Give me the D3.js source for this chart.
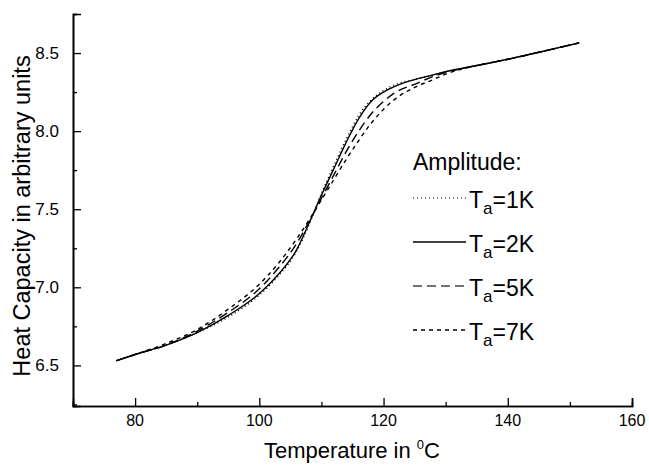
<!DOCTYPE html>
<html>
<head>
<meta charset="utf-8">
<style>
  body { margin: 0; background: #fff; }
  svg text { font-family: 'Liberation Sans', Arial, sans-serif; fill: #000; }
</style>
</head>
<body>
<svg width="649" height="467"></svg>
<script src="https://d3js.org/d3.v7.min.js"></script>
<script>
// temperature grid (°C)
const temps = [77, 80, 85, 90, 95, 100, 103, 106, 108, 110, 112, 114, 116, 118, 120, 122, 125, 128, 130, 135, 140, 145, 151.5];

// heat capacity for each amplitude
const cp1K = [6.53, 6.57, 6.63, 6.71, 6.81, 6.95, 7.07, 7.23, 7.40, 7.60, 7.78, 7.95, 8.10, 8.20, 8.26, 8.30, 8.33, 8.36, 8.38, 8.42, 8.46, 8.505, 8.565];
const cp2K = [6.53, 6.57, 6.63, 6.71, 6.82, 6.96, 7.08, 7.24, 7.41, 7.59, 7.76, 7.93, 8.08, 8.19, 8.25, 8.29, 8.33, 8.36, 8.38, 8.42, 8.46, 8.505, 8.565];
const cp5K = [6.53, 6.57, 6.63, 6.72, 6.84, 6.99, 7.12, 7.28, 7.42, 7.57, 7.72, 7.87, 8.00, 8.11, 8.19, 8.25, 8.30, 8.35, 8.375, 8.42, 8.46, 8.505, 8.565];
const cp7K = [6.53, 6.57, 6.64, 6.73, 6.86, 7.02, 7.15, 7.31, 7.43, 7.56, 7.69, 7.82, 7.94, 8.05, 8.14, 8.21, 8.28, 8.33, 8.365, 8.42, 8.46, 8.505, 8.565];

const xMajor = [80, 100, 120, 140, 160];
const xMinor = [70, 90, 110, 130, 150];
const yMajor = [6.5, 7.0, 7.5, 8.0, 8.5];
const yMinor = [6.25, 6.75, 7.25, 7.75, 8.25, 8.75];

const seriesNames = ["1K", "2K", "5K", "7K"];
const seriesData = [cp1K, cp2K, cp5K, cp7K];
const dashes = ["1,3", null, "9,5", "4,4"];

let svg = d3.select("svg");
let margin = { top: 14, right: 17, bottom: 61, left: 73 };
let width = 649, height = 467;

let x = d3.scaleLinear().domain([70, 160]).range([margin.left, width - margin.right]);
let y = d3.scaleLinear().domain([6.24, 8.75]).range([height - margin.bottom, margin.top]);

// axes with inward ticks
let xAxis = svg.append("g").attr("transform", `translate(0,${y.range()[0]})`);
xAxis.call(d3.axisTop(x).tickValues(xMinor).tickSize(4).tickFormat(""));
xAxis.append("g").call(d3.axisTop(x).tickValues(xMajor).tickSize(8).tickFormat(""));
xAxis.selectAll(".domain").attr("stroke-width", 1.6);
xAxis.selectAll(".tick line").attr("stroke-width", 1.3);

let yAxis = svg.append("g").attr("transform", `translate(${x.range()[0]},0)`);
yAxis.call(d3.axisRight(y).tickValues(yMinor).tickSize(4).tickFormat(""));
yAxis.append("g").call(d3.axisRight(y).tickValues(yMajor).tickSize(8).tickFormat(""));
yAxis.selectAll(".domain").attr("stroke-width", 1.6);
yAxis.selectAll(".tick line").attr("stroke-width", 1.3);

// tick labels
svg.append("g").selectAll("text")
  .data(xMajor).join("text")
  .attr("x", d => x(d)).attr("y", y.range()[0] + 20)
  .attr("text-anchor", "middle").style("font-size", "16px")
  .text(d => d);

svg.append("g").selectAll("text")
  .data(yMajor).join("text")
  .attr("x", x.range()[0] - 14).attr("y", d => y(d) + 6)
  .attr("text-anchor", "end").style("font-size", "17px")
  .text(d => d.toFixed(1));

// axis titles
let xt = svg.append("text")
  .attr("x", 352).attr("y", 458)
  .attr("text-anchor", "middle").style("font-size", "22px");
xt.append("tspan").text("Temperature in ");
xt.append("tspan").attr("dy", -9).style("font-size", "13px").text("0");
xt.append("tspan").attr("dy", 9).text("C");

svg.append("text")
  .attr("transform", `translate(30,216) rotate(-90)`)
  .attr("text-anchor", "middle").style("font-size", "23.5px")
  .text("Heat Capacity in arbitrary units");

// curves
let line = d3.line().x(d => x(d[0])).y(d => y(d[1])).curve(d3.curveMonotoneX);
seriesData.forEach((vals, i) => {
  svg.append("path")
    .datum(temps.map((t, j) => [t, vals[j]]))
    .attr("d", line)
    .attr("fill", "none")
    .attr("stroke", "#000")
    .attr("stroke-width", 1.4)
    .attr("stroke-dasharray", dashes[i]);
});

// legend
let lg = svg.append("g");
lg.append("text").attr("x", 413).attr("y", 170).style("font-size", "23px").text("Amplitude:");
seriesNames.forEach((name, i) => {
  let ly = 198 + i * 44;
  lg.append("line")
    .attr("x1", 413).attr("x2", 466).attr("y1", ly).attr("y2", ly)
    .attr("stroke", i === 2 ? "#444" : "#000")
    .attr("stroke-width", i === 0 ? 1 : 1.4)
    .attr("stroke-dasharray", dashes[i]);
  let t = lg.append("text").attr("x", 469).attr("y", ly + 10).style("font-size", "23px");
  t.append("tspan").text("T");
  t.append("tspan").attr("dy", 6).style("font-size", "17px").text("a");
  t.append("tspan").attr("dy", -6).text("=" + name);
});
</script>
</body>
</html>
